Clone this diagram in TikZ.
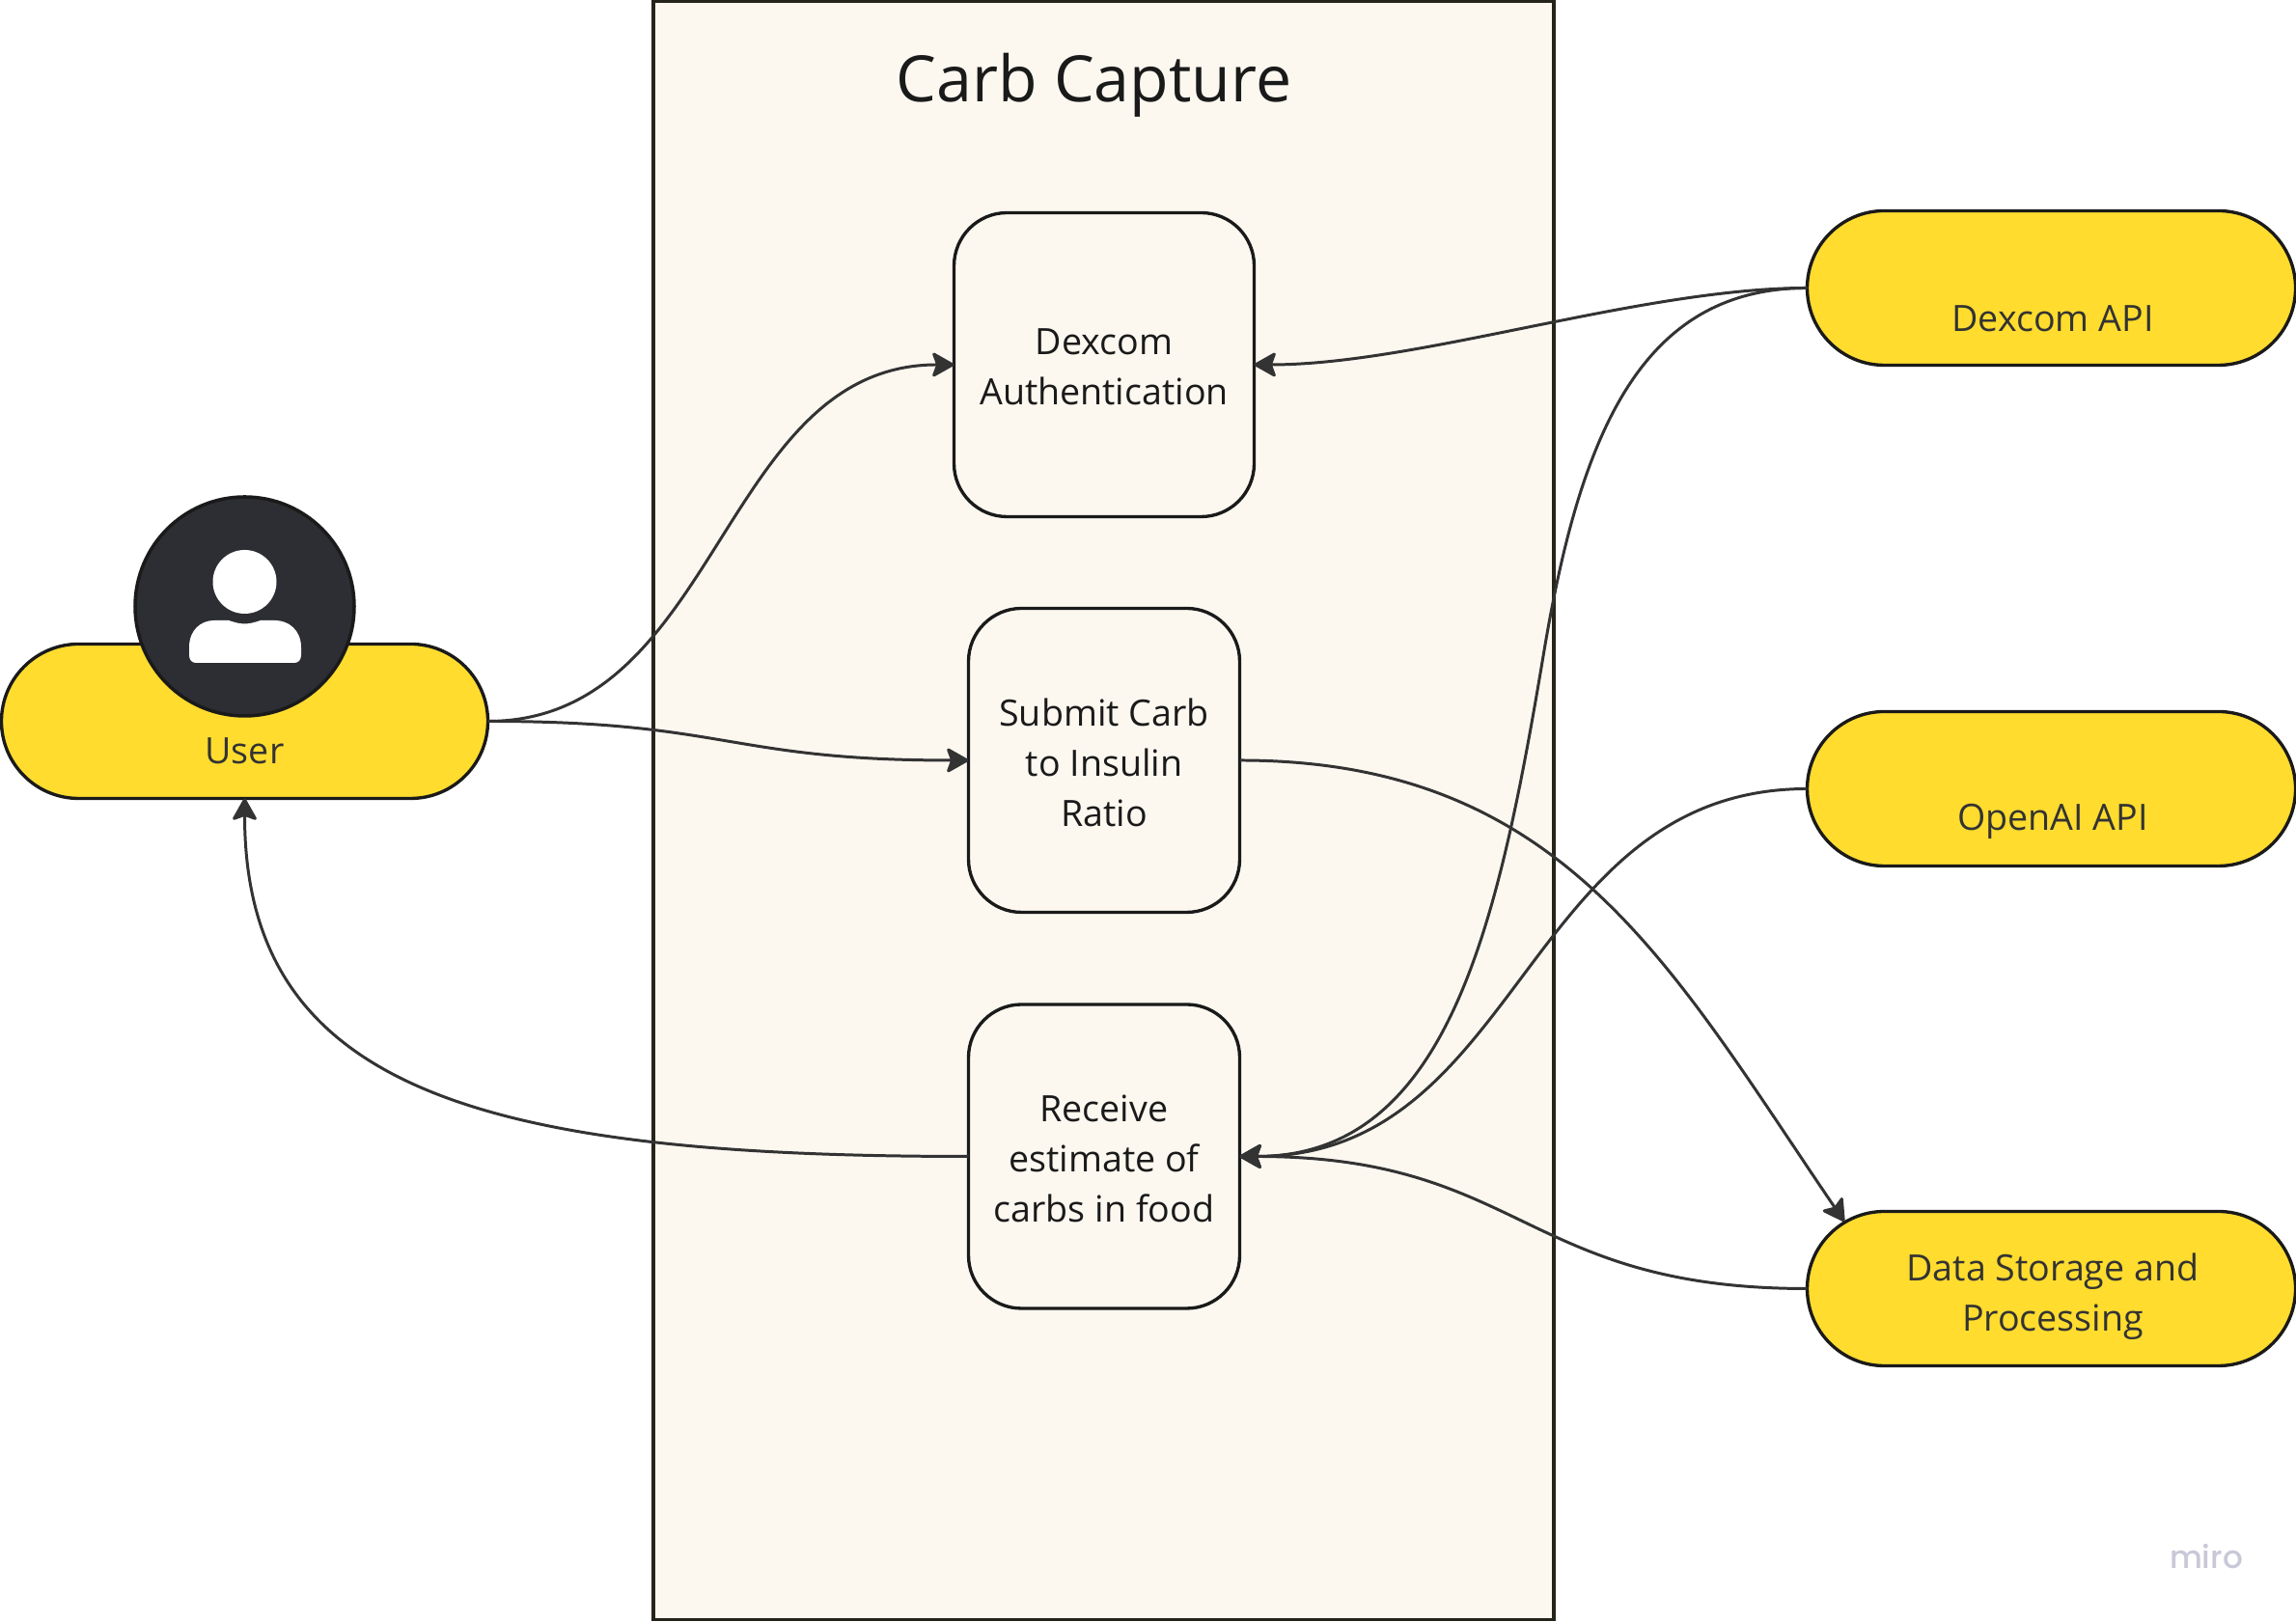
\documentclass[tikz,border=0pt]{standalone}
\usepackage{fontspec}
\setmainfont{Open Sans}
\newfontfamily\markfont{Poppins Medium}
\usetikzlibrary{arrows.meta}
\definecolor{pillyellow}{HTML}{FFDC2E}
\definecolor{framecream}{HTML}{FCF8F0}
\definecolor{frameink}{HTML}{26231A}
\definecolor{inkdark}{HTML}{1A1A1A}
\definecolor{wiregray}{HTML}{333333}
\definecolor{badgedark}{HTML}{2D2E33}
\definecolor{marklilac}{HTML}{C8C8D8}
\begin{document}
\begin{tikzpicture}[
  framebox/.style={rectangle, draw=frameink, fill=framecream, line width=0.95pt, outer sep=0pt, minimum width=9.33cm, minimum height=16.77cm},
  stepbox/.style={rectangle, draw=inkdark, fill=framecream, line width=0.95pt, rounded corners=0.55cm, outer sep=0pt, minimum width=2.81cm, minimum height=3.15cm},
  steptext/.style={inner sep=0pt, align=center, text=inkdark, font=\fontsize{10.7}{14.7}\selectfont},
  pill/.style={rectangle, draw=inkdark, fill=pillyellow, line width=0.95pt, rounded corners=0.8cm, outer sep=0pt, minimum width=5.06cm, minimum height=1.6cm},
  pilltext/.style={inner sep=0pt, align=center, text=wiregray, font=\fontsize{10.7}{14.7}\selectfont},
  link/.style={draw=wiregray, line width=0.85pt, -{Stealth[length=0.25cm, width=0.28cm, inset=0.05cm, round]}}
]
  \useasboundingbox (0,0) rectangle (23.79,16.81);

  % --- Frame ---
  \node[framebox] (frame) at (11.435,8.41) {};
  \node[text=inkdark, font=\fontsize{18.85}{24}\selectfont] (title) at (11.335,15.93) {Carb Capture};

  % --- Steps inside the frame ---
  \node[stepbox, minimum width=3.11cm] (auth) at (11.44,13.03) {};
  \node[steptext] (authtext) at (11.44,13.005) {Dexcom\\Authentication};
  \node[stepbox] (submit) at (11.44,8.93) {};
  \node[steptext] (submittext) at (11.44,8.905) {Submit Carb\\to Insulin\\Ratio};
  \node[stepbox] (receive) at (11.44,4.825) {};
  \node[steptext] (receivetext) at (11.44,4.80) {Receive\\estimate of\\carbs in food};

  % --- User ---
  \node[pill, minimum width=5.04cm] (user) at (2.535,9.335) {};
  \node[pilltext] (usertext) at (2.535,9.03) {User};
  \node[circle, draw=inkdark, fill=badgedark, line width=1pt, inner sep=0pt, minimum size=2.27cm] (badge) at (2.535,10.525) {};
  \node[circle, fill=white, inner sep=0pt, minimum size=0.66cm] (head) at (2.535,10.78) {};
  \fill[white] (1.96,10.02) -- (1.96,10.1) .. controls (1.96,10.28) and (2.08,10.38) .. (2.22,10.38)
    -- (2.37,10.38) .. controls (2.43,10.36) and (2.48,10.345) .. (2.535,10.345)
    .. controls (2.59,10.345) and (2.64,10.36) .. (2.70,10.38)
    -- (2.85,10.38) .. controls (2.99,10.38) and (3.12,10.28) .. (3.12,10.1)
    -- (3.12,10.02) .. controls (3.12,9.97) and (3.09,9.94) .. (3.05,9.94)
    -- (2.03,9.94) .. controls (1.99,9.94) and (1.96,9.97) .. (1.96,10.02) -- cycle;

  % --- Services on the right ---
  \node[pill] (dexcom) at (21.255,13.825) {};
  \node[pilltext] (dexcomtext) at (21.27,13.505) {Dexcom API};
  \node[pill] (openai) at (21.255,8.635) {};
  \node[pilltext] (openaitext) at (21.27,8.30) {OpenAI API};
  \node[pill] (data) at (21.255,3.455) {};
  \node[pilltext] (datatext) at (21.27,3.37) {Data Storage and\\Processing};
  \coordinate (dataentry) at (19.11,4.15);
  \coordinate (dexcombend) at (15.99,10.01);

  % --- Links ---
  \draw[link] (user.east) .. controls (7.46,9.335) and (7.46,13.03) .. (auth.west);
  \draw[link] (user.east) .. controls (7.54,9.335) and (7.54,8.93) .. (submit.west);
  \draw[link] (receive.west) .. controls (5.0,4.825) and (2.535,5.51) .. (user.south);
  \draw[link] (dexcom.west) .. controls (17.0,13.825) and (14.7,13.03) .. (auth.east);
  \draw[link] (dexcom.west) .. controls (17.0,13.825) and (16.37,12.31) .. (dexcombend)
    .. controls (15.52,7.21) and (15.0,4.825) .. (receive.east);
  \draw[link] (openai.west) .. controls (15.78,8.635) and (15.78,4.825) .. (receive.east);
  \draw[link] (data.west) .. controls (15.78,3.455) and (15.78,4.825) .. (receive.east);
  \draw[link] (submit.east) .. controls (16.2,8.93) and (17.3,6.81) .. (dataentry);

  % Mark
  \node[anchor=base, text=marklilac, font=\markfont\fontsize{9.3}{11}\selectfont] (mark) at (22.86,0.55) {miro};
\end{tikzpicture}
\end{document}
